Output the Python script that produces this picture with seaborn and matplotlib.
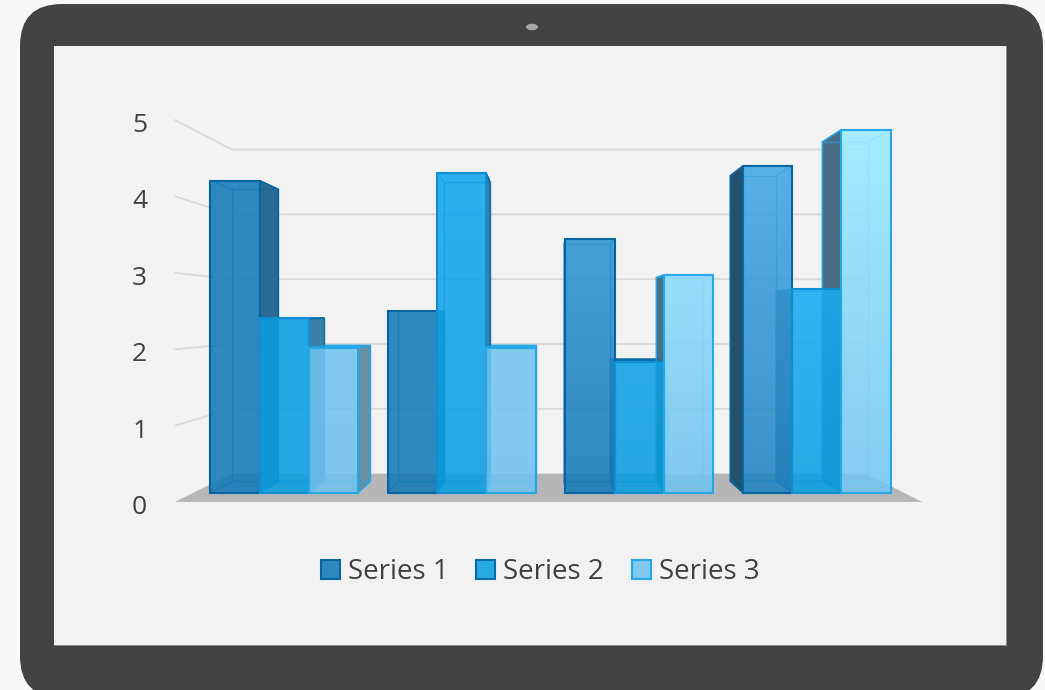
import numpy as np
import pandas as pd
import matplotlib
matplotlib.use("Agg")
import matplotlib.pyplot as plt
from matplotlib.colors import to_rgb
from matplotlib.patches import Ellipse, FancyBboxPatch, Patch, Polygon, Rectangle
import seaborn as sns

categories = ["Category 1", "Category 2", "Category 3", "Category 4"]
series_names = ["Series 1", "Series 2", "Series 3"]
series_1 = [4.3, 2.5, 3.5, 4.5]
series_2 = [2.4, 4.4, 1.8, 2.8]
series_3 = [2.0, 2.0, 3.0, 5.0]
wall_ticks = [0, 1, 2, 3, 4, 5]

# style tables, one row per series
base_colors = ["#2e88bf", "#27a9e3", "#7fc8ef"]
edge_colors = ["#05659f", "#0e8fd2", "#26a7e8"]
legend_edges = ["#05659f", "#056ca6", "#26a7e8"]
back_edges = ["#05659f", "#0a6fa6", "#26a7e8"]
right_faces = ["#2a6a94", "#3b7fa9", "#678fa8"]
left_faces = ["#25506c", "#46667c", "#4a6c84"]
# visible face colours, top of bar / bottom of bar, per category
grad_top = [["#2e88bf", "#2f88be", "#44a0d8", "#58b0e8"],
            ["#27a8e2", "#2db0ee", "#2aaae6", "#33b5f2"],
            ["#81c9ef", "#82caf0", "#98deff", "#a4ecff"]]
grad_bottom = [["#2e88bf", "#2f88be", "#2e88bf", "#3a90c8"],
               ["#27a8e2", "#27a8e2", "#26a6e0", "#27a8e2"],
               ["#80c8f0", "#80c8f0", "#80c8f0", "#84ccf4"]]

TEXT = "#404040"
SCREEN = "#f2f2f2"
FRONT_ALPHA = 0.88

# perspective: depth factors and vanishing point in data units
VX, VY = 1.49, 2.45
S_BACK = 0.935
S_FLOOR_FRONT = 1.052
S_FLOOR_BACK = 0.893
WALL_LEFT, WALL_RIGHT = -0.51, 3.49


def project(x, v, s):
    return VX + s * (x - VX), VY + s * (v - VY)


def unmix(color):
    # colour that looks like `color` once drawn with FRONT_ALPHA on the screen
    c = np.array(to_rgb(color))
    bg = np.array(to_rgb(SCREEN))
    return np.clip((c - (1 - FRONT_ALPHA) * bg) / FRONT_ALPHA, 0, 1)


df = pd.DataFrame({
    "category": categories * 3,
    "series": np.repeat(series_names, 4),
    "value": series_1 + series_2 + series_3,
})

sns.set_theme(style="white")
plt.rcParams["font.family"] = ["Open Sans", "DejaVu Sans"]

fig = plt.figure(figsize=(10.45, 6.9), dpi=100, facecolor="#f8f8f8")

# tablet frame, in pixel coordinates
bg = fig.add_axes([0, 0, 1, 1])
bg.set_xlim(0, 1045)
bg.set_ylim(690, 0)
bg.axis("off")
bg.add_patch(FancyBboxPatch((20, 4), 1023, 694, boxstyle="round,pad=0,rounding_size=42",
                            fc="#434345", ec="none"))
bg.add_patch(Rectangle((54, 46), 952, 599, fc=SCREEN, ec="none"))
bg.plot([54, 1006, 1006], [645, 645, 46], color="#9a9a9a", lw=0.6)
bg.add_patch(Ellipse((532, 27), 12, 6.5, fc="#a8a8a8", ec="none"))

ax = fig.add_axes([175 / 1045, (690 - 510) / 690, 747 / 1045, 390 / 690])
ax.patch.set_alpha(0)
sns.barplot(data=df, x="category", y="value", hue="series", hue_order=series_names,
            order=categories, palette=base_colors, width=0.832, gap=0, saturation=1,
            legend=False, ax=ax)

# floor and wall lines
floor = [project(WALL_LEFT, 0, S_FLOOR_FRONT), project(WALL_LEFT, 0, S_FLOOR_BACK),
         project(WALL_RIGHT, 0, S_FLOOR_BACK), project(WALL_RIGHT, 0, S_FLOOR_FRONT)]
ax.add_patch(Polygon(floor, closed=True, fc="#b6b6b6", ec="none", zorder=1))
for v in wall_ticks[1:]:
    pts = [project(WALL_LEFT, v, S_FLOOR_FRONT), project(WALL_LEFT, v, S_FLOOR_BACK),
           project(WALL_RIGHT, v, S_FLOOR_BACK)]
    ax.plot(*zip(*pts), color="#d9d9d9", lw=1.3, zorder=1, clip_on=False)

# the sides of the boxes sit behind every front face
for i, container in enumerate(ax.containers):
    for j, bar in enumerate(container):
        x0, x1 = bar.get_x(), bar.get_x() + bar.get_width()
        v = bar.get_height()
        # the lid only shows when the box top is below eye level
        if v < VY:
            top = [(x0, v, 1), (x1, v, 1), (x1, v, S_BACK), (x0, v, S_BACK)]
            ax.add_patch(Polygon([project(*p) for p in top], fc=back_edges[i],
                                 ec=back_edges[i], lw=1, zorder=2.9))
        if x1 < VX:
            side = [(x1, 0, 1), (x1, v, 1), (x1, v, S_BACK), (x1, 0, S_BACK)]
            ax.add_patch(Polygon([project(*p) for p in side], fc=right_faces[i],
                                 ec=back_edges[i], lw=1, zorder=3 + i * 0.1))
        if x0 > VX:
            side = [(x0, 0, 1), (x0, v, 1), (x0, v, S_BACK), (x0, 0, S_BACK)]
            ax.add_patch(Polygon([project(*p) for p in side], fc=left_faces[i],
                                 ec=back_edges[i], lw=1, zorder=3 + i * 0.1))
        # back rectangle and the corner lines, seen through the front
        back = [project(x0, 0, S_BACK), project(x1, 0, S_BACK),
                project(x1, v, S_BACK), project(x0, v, S_BACK)]
        ax.add_patch(Polygon(back, fill=False, ec=back_edges[i], lw=1.0, alpha=0.6, zorder=4))
        for x, h in [(x0, 0), (x1, 0), (x0, v), (x1, v)]:
            ax.plot(*zip(project(x, h, 1), project(x, h, S_BACK)),
                    color=back_edges[i], lw=1.0, alpha=0.6, zorder=4)

# front faces: vertical gradient over the seaborn bar, which keeps the outline
for i, container in enumerate(ax.containers):
    for j, bar in enumerate(container):
        x0, x1 = bar.get_x(), bar.get_x() + bar.get_width()
        t = np.linspace(0, 1, 64)[:, None, None]
        img = (1 - t) * unmix(grad_top[i][j]) + t * unmix(grad_bottom[i][j])
        ax.imshow(img, extent=(x0, x1, 0, bar.get_height()), origin="upper", aspect="auto",
                  alpha=FRONT_ALPHA, zorder=5, interpolation="bilinear")
        bar.set_facecolor("none")
        bar.set_edgecolor(edge_colors[i])
        bar.set_linewidth(1.5)
        bar.set_zorder(6)

ax.set_xlim(-0.615, 3.593)
ax.set_ylim((492.7 - 510) / 72.6, (492.7 - 120) / 72.6)
ax.set_xlabel("")
ax.set_ylabel("")
ax.set_xticks([])
ax.set_yticks([])
sns.despine(ax=ax, left=True, bottom=True)

# value axis follows the front end of the left wall
ax2 = ax.twinx()
ax2.yaxis.tick_left()
ax2.set_ylim((505 - 510) / 76.6, (505 - 120) / 76.6)
ax2.set_yticks(wall_ticks)
ax2.set_yticklabels([str(v) for v in wall_ticks])
ax2.tick_params(axis="y", length=0, pad=20, labelsize=19, labelcolor=TEXT)
sns.despine(ax=ax2, left=True, bottom=True, right=True, top=True)

handles = [Patch(fc=c, ec=e, lw=1.5, label=n)
           for c, e, n in zip(base_colors, legend_edges, series_names)]
ax.legend(handles=handles, ncol=3, loc="center", bbox_to_anchor=(540 / 1045, (690 - 572) / 690),
          bbox_transform=fig.transFigure, frameon=False, fontsize=20, labelcolor=TEXT,
          handlelength=0.68, handleheight=0.68, handletextpad=0.29, columnspacing=1.0,
          borderpad=0, borderaxespad=0)

fig.savefig("out.png", dpi=100, facecolor=fig.get_facecolor())
